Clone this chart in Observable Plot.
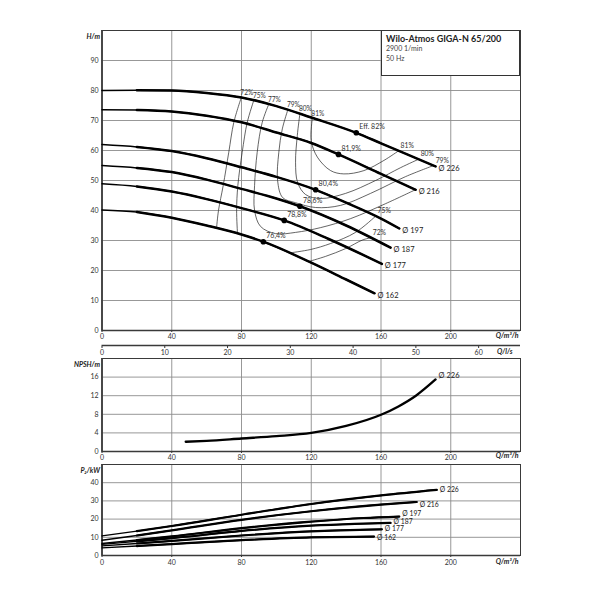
<!DOCTYPE html>
<html><head><meta charset="utf-8">
<script src="https://cdn.jsdelivr.net/npm/d3@7"></script>
<script src="https://cdn.jsdelivr.net/npm/@observablehq/plot@0.6"></script>
<style>
body{margin:0;background:#fff}
#chart{position:relative;width:600px;height:600px;font-family:Lato,sans-serif;color:#333}
#titlebox{position:absolute;left:381px;top:30px;width:139px;height:46px;box-sizing:border-box;border:1px solid #333;background:#fff;padding:2px 0 0 4px;line-height:9.5px}
#titlebox .t{font-weight:bold;font-size:9px;color:#222;line-height:11px}
#titlebox .s{font-size:7px;color:#444}
</style></head><body>
<div id="chart">
  <div id="titlebox"><div class="t">Wilo-Atmos GIGA-N 65/200</div><div class="s">2900 1/min</div><div class="s">50 Hz</div></div>
</div>
<script>
// ---- data ----
const xTicks = [0, 40, 80, 120, 160, 200];
const hTicks = [0, 10, 20, 30, 40, 50, 60, 70, 80, 90];
const npshTicks = [0, 4, 8, 12, 16];
const pTicks = [0, 10, 20, 30, 40];
const lsTicks = [0, 10, 20, 30, 40, 50, 60];
const diameters = ["Ø 226", "Ø 216", "Ø 197", "Ø 187", "Ø 177", "Ø 162"];

const head226 = [[0,80],[20,80.1],[40,80],[60,79.2],[80,77.7],[100,74.8],[120,71],[145.8,65.9],[160,62.4],[175,58.7],[191.3,54.7]];
const head216 = [[0,73.6],[20,73.5],[40,73],[60,71.6],[80,69.4],[100,66],[120,62.5],[135.6,58.7],[160,52.2],[179.9,46.9]];
const head197 = [[0,62],[20,61.2],[40,59.8],[60,57.4],[80,54.4],[100,51.2],[122.5,46.9],[140,42.6],[160,37.3],[170.5,34]];
const head187 = [[0,55],[20,54.2],[40,52.8],[60,50.3],[80,47.2],[100,44],[113.5,41.4],[140,35],[165.5,27.6]];
const head177 = [[0,48.9],[20,48],[40,46.3],[60,43.8],[80,40.8],[104.5,36.7],[130,30.5],[160.5,22.2]];
const head162 = [[0,40.2],[20,39.5],[40,37.6],[60,35],[80,32],[92.5,29.6],[120,22.6],[140,17],[156.3,12.4]];

const bestQ = [145.8, 135.6, 122.5, 113.5, 104.5, 92.5];
const bestH = [65.9, 58.7, 46.9, 41.4, 36.7, 29.6];
const bestLabel = ["Eff. 82%", "81,9%", "80,4%", "78,6%", "78,8%", "76,4%"];

const eff72a = [[79.9,77.7],[75.6,69.4],[72.7,59.4],[69.5,48.3],[66.8,40],[65.7,34.2]];
const eff72b = [[118.5,23],[128.2,24.7],[139.7,27.3],[149.5,30.2],[154.1,30.9]];
const eff75a = [[87.1,76.8],[83.3,69.4],[80.4,59.4],[77.9,48.3],[77.2,40],[77.7,32.4]];
const eff75b = [[108.1,25.9],[119.6,27],[131.1,29],[145.4,32.7],[156.9,38.1]];
const eff77 = [[95.7,75.5],[91.9,69.4],[89,59.4],[87.5,48.3],[87.5,40],[90.9,34.7],[99.5,32.3],[111,32.7],[125.4,34.3],[142.6,37.3],[162.7,42.3],[179.3,46.8]];
const eff79 = [[106.6,73.6],[103.4,67.2],[101.4,59.4],[100.7,50],[103.6,44.3],[111,42.6],[122.5,41],[136.8,41.7],[154,45.7],[174.1,51.3],[190.2,55]];
const eff80 = [[113.5,72.3],[112,65],[111,56.1],[112.2,49.3],[116.8,45.3],[125.4,44],[139.7,45.7],[156.9,50],[171.3,54.3],[181.6,57.1]];
const eff81 = [[120.6,70.7],[120,63.3],[123.5,57.8],[131.1,53.3],[138.7,52.2],[150.2,53.3],[161.7,56.7],[170.1,59.9]];

const npsh226 = [[48,2.1],[60,2.3],[80,2.8],[100,3.3],[120,4],[140,5.5],[160,7.9],[170,9.7],[180,12],[191.3,15.5]];

const power226 = [[0,10.8],[20,13.4],[40,16.2],[80,22.4],[120,28.3],[160,33],[192,36.1]];
const power216 = [[0,8.4],[20,11],[40,13.8],[80,19.6],[120,24.3],[160,28],[180.5,29.4]];
const power197 = [[0,6.6],[20,8.5],[40,10.5],[80,15],[120,18.6],[150,20.6],[170.5,21.4]];
const power187 = [[0,6.1],[20,7.8],[40,9.5],[80,13.5],[120,16.4],[145,17.4],[165.5,17.9]];
const power177 = [[0,5.3],[20,6.6],[40,8],[80,11],[120,13.3],[160.5,14.4]];
const power162 = [[0,4.2],[20,5.2],[40,6.3],[80,8.4],[120,10],[156,10.4]];

// ---- tables ----
const toRows = (list) => list.flatMap(([d, pts]) => pts.map(([q, v]) => ({d, q, v})));
const headRows = toRows([[diameters[0],head226],[diameters[1],head216],[diameters[2],head197],[diameters[3],head187],[diameters[4],head177],[diameters[5],head162]]);
const powerRows = toRows([[diameters[0],power226],[diameters[1],power216],[diameters[2],power197],[diameters[3],power187],[diameters[4],power177],[diameters[5],power162]]);
const npshRows = toRows([[diameters[0], npsh226]]);
const bestRows = bestQ.map((q, i) => ({q, v: bestH[i], t: bestLabel[i]}));
const contours = [
  ["72a","72%",eff72a,true,false],["72b","72%",eff72b,false,true],
  ["75a","75%",eff75a,true,false],["75b","75%",eff75b,false,true],
  ["77","77%",eff77,true,false],["79","79%",eff79,true,true],
  ["80","80%",eff80,true,true],["81","81%",eff81,true,true]
];
const contourRows = contours.flatMap(([id,, pts]) => pts.map(([q, v]) => ({id, q, v})));
const contourLabelStart = contours.filter(c => c[3]).map(([, t, pts]) => ({t, q: pts[0][0], v: pts[0][1]}));
const contourLabelEnd = contours.filter(c => c[4]).map(([, t, pts]) => ({t, q: pts[pts.length-1][0], v: pts[pts.length-1][1]}));

// ---- layout helpers ----
const FONT = "Lato, sans-serif";
const GRID = "#8c8c8c";
const AX = "#3a3a3a";
const chart = document.getElementById("chart");
const titlebox = document.getElementById("titlebox");
function place(svg, top) {
  svg.style.position = "absolute";
  svg.style.left = "0px";
  svg.style.top = top + "px";
  chart.insertBefore(svg, titlebox);
}
const baseStyle = {background: "transparent", overflow: "visible", fontFamily: FONT, fontSize: "7px", color: "#333"};
const xScale = (extra) => Object.assign({domain: [0, 240], ticks: xTicks, tickSize: 2, tickPadding: 1.5, label: null}, extra || {});
const axisTitle = (txt, anchor, dx, dy, end) => Plot.text([txt], {text: d => d, frameAnchor: anchor, dx, dy, textAnchor: end ? "end" : "start", fontWeight: "bold", fontStyle: "italic", fontSize: 7, fill: "#222"});
const gridMarks = (yTicks) => [
  Plot.ruleX(xTicks, {stroke: GRID, strokeWidth: 0.9}),
  Plot.ruleY(yTicks, {stroke: GRID, strokeWidth: 0.9}),
  Plot.frame({stroke: AX, strokeWidth: 1}),
  Plot.ruleX([0], {stroke: AX, strokeWidth: 1.6}),
  Plot.ruleY([0], {stroke: AX, strokeWidth: 1.6})
];

// ---- panel 1: H-Q ----
const p1 = Plot.plot({
  width: 600, height: 340, marginLeft: 101.5, marginRight: 80, marginTop: 30, marginBottom: 10,
  style: baseStyle,
  x: xScale(),
  y: {domain: [0, 100], ticks: hTicks, tickSize: 0, tickPadding: 3.5, label: null},
  marks: [
    ...gridMarks(hTicks.concat([100])),
    Plot.line(contourRows, {x: "q", y: "v", z: "id", stroke: "#222", strokeWidth: 0.7, curve: "catmull-rom"}),
    Plot.line(headRows, {x: "q", y: "v", z: "d", stroke: "#000", strokeWidth: 1.5, curve: "monotone-x"}),
    Plot.line(headRows.filter(r => r.q >= 20), {x: "q", y: "v", z: "d", stroke: "#000", strokeWidth: 2.5, curve: "monotone-x"}),
    Plot.dot(bestRows, {x: "q", y: "v", r: 2.8, fill: "#000"}),
    Plot.text(bestRows, {x: "q", y: "v", text: "t", dx: 3, dy: -6, textAnchor: "start", fontSize: 7, fill: "#333"}),
    Plot.text(contourLabelStart, {x: "q", y: "v", text: "t", dx: 5.5, dy: -4.5, textAnchor: "middle", fontSize: 6.6, fill: "#333"}),
    Plot.text(contourLabelEnd, {x: "q", y: "v", text: "t", dx: 2, dy: -5, textAnchor: "start", fontSize: 6.8, fill: "#333"}),
    Plot.text(headRows, Plot.selectLast({x: "q", y: "v", z: "d", text: "d", dx: 3, dy: 2, textAnchor: "start", fontSize: 7.5, fill: "#222"})),
    axisTitle("H/m", "top-left", -2, 4, true),
    axisTitle("Q/m³/h", "bottom-right", -2, 7, true)
  ]
});
place(p1, 0);

// ---- l/s secondary axis ----
const pls = Plot.plot({
  width: 600, height: 20, marginLeft: 101.5, marginRight: 80, marginTop: 5, marginBottom: 14,
  style: baseStyle,
  x: {domain: [0, 240 / 3.6], ticks: lsTicks, tickSize: 2, tickPadding: 1.5, label: null},
  y: {domain: [0, 1], axis: null},
  marks: [
    Plot.ruleY([1], {stroke: AX, strokeWidth: 1.4}),
    axisTitle("Q/l/s", "bottom-right", -8, 7, true)
  ]
});
place(pls, 340);

// ---- panel 2: NPSH ----
const p2 = Plot.plot({
  width: 600, height: 125, marginLeft: 101.5, marginRight: 80, marginTop: 18, marginBottom: 14,
  style: baseStyle,
  x: xScale(),
  y: {domain: [0, 20], ticks: npshTicks, tickSize: 0, tickPadding: 3.5, label: null},
  marks: [
    ...gridMarks(npshTicks.concat([20])),
    Plot.line(npshRows, {x: "q", y: "v", z: "d", stroke: "#000", strokeWidth: 2.3, curve: "monotone-x"}),
    Plot.text(npshRows, Plot.selectLast({x: "q", y: "v", z: "d", text: "d", dx: 3, dy: -4, textAnchor: "start", fontSize: 7.5, fill: "#222"})),
    axisTitle("NPSH/m", "top-left", -2, 4, true),
    axisTitle("Q/m³/h", "bottom-right", -2, 6, true)
  ]
});
place(p2, 340);

// ---- panel 3: power ----
const powerDy = {"Ø 226": 0, "Ø 216": 3, "Ø 197": -3, "Ø 187": -1, "Ø 177": 0, "Ø 162": 1};
const p3 = Plot.plot({
  width: 600, height: 145, marginLeft: 101.5, marginRight: 80, marginTop: 9, marginBottom: 45,
  style: baseStyle,
  x: xScale({tickPadding: 2.5}),
  y: {domain: [0, 50], ticks: pTicks, tickSize: 0, tickPadding: 3.5, label: null},
  marks: [
    ...gridMarks(pTicks.concat([50])),
    Plot.line(powerRows, {x: "q", y: "v", z: "d", stroke: "#000", strokeWidth: 1.4, curve: "monotone-x"}),
    Plot.line(powerRows.filter(r => r.q >= 20), {x: "q", y: "v", z: "d", stroke: "#000", strokeWidth: 2.2, curve: "monotone-x"}),
    ...diameters.map(d => Plot.text(powerRows.filter(r => r.d === d), Plot.selectLast({x: "q", y: "v", text: "d", dx: 3, dy: powerDy[d], textAnchor: "start", fontSize: 6.8, fill: "#222"}))),
    axisTitle("P₂/kW", "top-left", -2, 4, true),
    axisTitle("Q/m³/h", "bottom-right", -2, 8, true)
  ]
});
place(p3, 455);
</script>
</body></html>
